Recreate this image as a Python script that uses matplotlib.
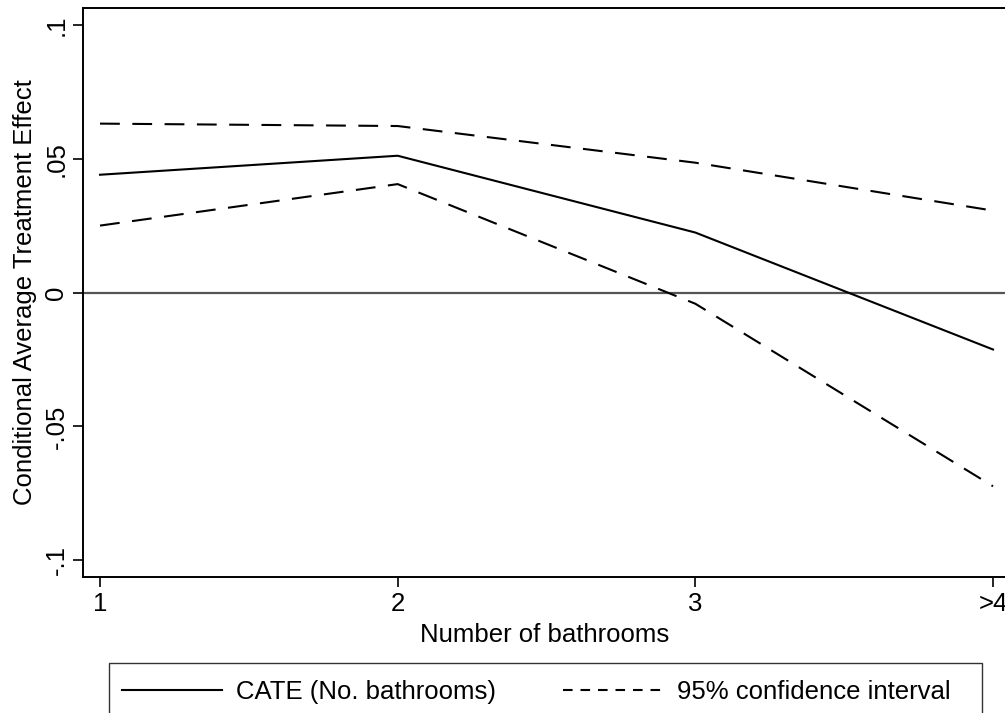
import matplotlib
matplotlib.use('Agg')
import matplotlib.pyplot as plt
from matplotlib.lines import Line2D
from matplotlib.patches import Rectangle

plt.rcParams['font.family'] = ['Liberation Sans', 'DejaVu Sans']
plt.rcParams['font.size'] = 18.5

# 数据：浴室数量对应的CATE和95%置信区间
x_pos = [1, 2, 3, 4]
x_labels = ['1', '2', '3', '>4']
cate = [0.0440, 0.0511, 0.0224, -0.0213]
ci_upper = [0.0631, 0.0622, 0.0485, 0.0306]
ci_lower = [0.0250, 0.0405, -0.0042, -0.0724]
y_ticks = [-0.1, -0.05, 0, 0.05, 0.1]
y_ticklabels = ['-.1', '-.05', '0', '.05', '.1']

W, H = 1005, 713
fig = plt.figure(figsize=(W / 100, H / 100), dpi=100)
# 轴的位置按像素算
ax = fig.add_axes([83 / W, 1 - 577 / H, 1 - 83 / W + 0.002, (577 - 8) / H])

lw = 1.5
ax.axhline(0, color='#555555', linewidth=1.6, zorder=1)
ax.plot(x_pos, cate, color='black', linewidth=lw, zorder=3)
ax.plot(x_pos, ci_upper, color='black', linewidth=lw, dashes=(9.5, 6), zorder=3)
ax.plot(x_pos, ci_lower, color='black', linewidth=lw, dashes=(9.5, 6), zorder=3)

ax.set_xlim(0.9428, 4.047)
ax.set_ylim(-0.1063, 0.1063)
ax.set_xticks(x_pos)
ax.set_xticklabels(x_labels)
ax.set_yticks(y_ticks)
ax.set_yticklabels(y_ticklabels, rotation=90, va='center')
ax.tick_params(axis='both', length=7, width=1.2, color='black')
ax.tick_params(axis='y', pad=3.5)
ax.tick_params(axis='x', pad=4)

for s in ['left', 'top', 'bottom']:
    ax.spines[s].set_linewidth(1.4)
ax.spines['right'].set_visible(False)

ax.set_xlabel('Number of bathrooms', labelpad=5)
ax.set_ylabel('Conditional Average Treatment Effect', labelpad=5)

# 图例自己做handle，虚线短一点；框单独画，右边留得宽一些
handles = [Line2D([], [], color='black', linewidth=lw),
           Line2D([], [], color='black', linewidth=lw, dashes=(4.6, 3.8))]
labels = ['CATE (No. bathrooms)', '95% confidence interval']
leg = fig.legend(handles, labels, loc='upper left', ncol=2,
                 bbox_to_anchor=(109 / W, 1 - 667 / H),
                 frameon=False, borderaxespad=0,
                 handlelength=3.9, handletextpad=0.55, borderpad=0.5,
                 columnspacing=2.6)
box = Rectangle((109 / W, 1 - 718 / H), (982 - 109) / W, 55 / H,
                transform=fig.transFigure, fill=False,
                edgecolor='#333333', linewidth=1.0)
fig.patches.append(box)

fig.savefig('out.png', dpi=100)
